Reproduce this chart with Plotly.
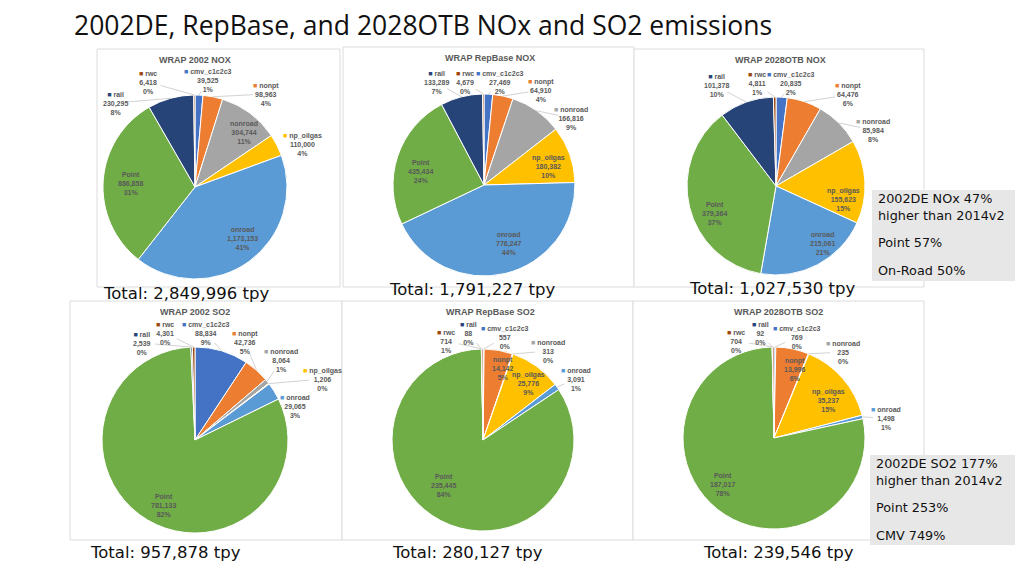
import math
import plotly.graph_objects as go

# ---------------- data ----------------
categories = ["cmv_c1c2c3", "nonpt", "nonroad", "np_oilgas", "onroad", "Point", "rail", "rwc"]

nox_2002 = [39525, 98963, 304744, 110000, 1173153, 886858, 230295, 6418]
nox_2002_pct = ["1%", "4%", "11%", "4%", "41%", "31%", "8%", "0%"]
nox_repbase = [27469, 64910, 166816, 180382, 776247, 435434, 133289, 4679]
nox_repbase_pct = ["2%", "4%", "9%", "10%", "44%", "24%", "7%", "0%"]
nox_2028 = [20835, 64476, 85984, 155623, 215061, 379364, 101378, 4811]
nox_2028_pct = ["2%", "6%", "8%", "15%", "21%", "37%", "10%", "1%"]
so2_2002 = [88834, 42736, 8064, 1206, 29065, 781133, 2539, 4301]
so2_2002_pct = ["9%", "5%", "1%", "0%", "3%", "82%", "0%", "0%"]
so2_repbase = [557, 14142, 313, 25776, 3091, 235445, 88, 714]
so2_repbase_pct = ["0%", "5%", "0%", "9%", "1%", "84%", "0%", "1%"]
so2_2028 = [769, 13996, 235, 35237, 1498, 187017, 92, 704]
so2_2028_pct = ["0%", "6%", "0%", "15%", "1%", "78%", "0%", "0%"]

chart_titles = ["WRAP 2002 NOX", "WRAP RepBase NOX", "WRAP 2028OTB NOX",
                "WRAP 2002 SO2", "WRAP RepBase SO2", "WRAP 2028OTB SO2"]
totals = ["Total: 2,849,996 tpy", "Total: 1,791,227 tpy", "Total: 1,027,530 tpy",
          "Total: 957,878 tpy", "Total: 280,127 tpy", "Total: 239,546 tpy"]
main_title = "2002DE, RepBase, and 2028OTB NOx and SO2 emissions"
note_nox = ["2002DE NOx 47%<br>higher than 2014v2", "Point 57%", "On-Road 50%"]
note_so2 = ["2002DE SO2 177%<br>higher than 2014v2", "Point 253%", "CMV 749%"]

# ---------------- styles / layout ----------------
W, H = 1024, 576
OFF = 8  # page body margin offset
colors = {"cmv_c1c2c3": "#4472C4", "nonpt": "#ED7D31", "nonroad": "#A5A5A5",
          "np_oilgas": "#FFC000", "onroad": "#5B9BD5", "Point": "#70AD47",
          "rail": "#264478", "rwc": "#9E480E"}

# pie centre and radius (screen pixels)
pie_geo = [(195, 187, 92), (484, 185, 91), (776, 186, 89),
           (195, 440, 93), (483, 440, 91), (774, 438, 91)]
panel_boxes = [(97, 49, 340, 287), (343, 47, 634, 287), (634, 49, 924, 287),
               (70, 301, 342, 540), (342, 301, 633, 540), (633, 301, 924, 540)]
title_pos = [(195, 60), (490, 58), (780, 60), (195, 312), (490, 312), (778, 312)]
total_pos = [(186, 293), (472, 289), (772, 288), (165, 552), (467, 552), (778, 552)]

# label positions (screen pixel centres of the text block)
label_pos = [
    {"rwc": (148, 82), "cmv_c1c2c3": (208, 80), "nonpt": (266, 94), "np_oilgas": (302, 144),
     "rail": (115, 103), "nonroad": (244, 132), "Point": (130, 183), "onroad": (242, 238)},
    {"rail": (436, 82), "rwc": (465, 82), "cmv_c1c2c3": (500, 82), "nonpt": (541, 90),
     "nonroad": (571, 118), "np_oilgas": (548, 166), "Point": (420, 171), "onroad": (508, 243)},
    {"rail": (716, 86), "rwc": (757, 84), "cmv_c1c2c3": (791, 83), "nonpt": (848, 95),
     "nonroad": (873, 130), "np_oilgas": (843, 199), "Point": (714, 214), "onroad": (822, 243)},
    {"rail": (142, 343), "rwc": (165, 333), "cmv_c1c2c3": (206, 333), "nonpt": (245, 342),
     "nonroad": (281, 360), "np_oilgas": (322, 379), "onroad": (295, 406), "Point": (163, 505)},
    {"rwc": (446, 341), "rail": (468, 333), "cmv_c1c2c3": (505, 337), "nonroad": (548, 351),
     "onroad": (576, 379), "nonpt": (503, 368), "np_oilgas": (528, 383), "Point": (443, 485)},
    {"rwc": (736, 341), "rail": (760, 333), "cmv_c1c2c3": (797, 337), "nonroad": (843, 352),
     "onroad": (886, 418), "nonpt": (795, 369), "np_oilgas": (828, 400), "Point": (722, 484)},
]
inside = [{"nonroad", "Point", "onroad"}, {"np_oilgas", "Point", "onroad"},
          {"np_oilgas", "Point", "onroad"}, {"Point"},
          {"nonpt", "np_oilgas", "Point"}, {"nonpt", "np_oilgas", "Point"}]
no_leader = [{"np_oilgas"}, set(), set(), {"onroad"}, set(), set()]

series = [(nox_2002, nox_2002_pct), (nox_repbase, nox_repbase_pct), (nox_2028, nox_2028_pct),
          (so2_2002, so2_2002_pct), (so2_repbase, so2_repbase_pct), (so2_2028, so2_2028_pct)]


def px(x):
    return (x - OFF) / W


def py(y):
    return 1 - (y - OFF) / H


fig = go.Figure()
annotations = []
shapes = []
LABEL_FONT = dict(family="Liberation Sans", size=7, color="#595959", weight="bold")

for i, (vals, pcts) in enumerate(series):
    cx, cy, r = pie_geo[i]
    x0, y0, x1, y1 = panel_boxes[i]
    shapes.append(dict(type="rect", xref="paper", yref="paper", x0=px(x0), x1=px(x1),
                       y0=py(y1), y1=py(y0), line=dict(color="#DCDCDC", width=1),
                       fillcolor="white", layer="below"))
    fig.add_trace(go.Pie(
        labels=categories, values=vals, sort=False, direction="clockwise", rotation=0,
        textinfo="none", hole=0,
        marker=dict(colors=[colors[c] for c in categories], line=dict(color="white", width=1)),
        domain=dict(x=[px(cx - r), px(cx + r)], y=[py(cy + r), py(cy - r)]),
        showlegend=False, hovertemplate="%{label}: %{value:,}<extra></extra>",
    ))
    total = sum(vals)
    cum = 0
    for c, v, p in zip(categories, vals, pcts):
        mid = 2 * math.pi * (cum + v / 2) / total
        cum += v
        lx, ly = label_pos[i][c]
        if c in inside[i]:
            txt = f"{c}<br>{v:,}<br>{p}"
        else:
            txt = f"<span style='color:{colors[c]}'>■</span> {c}<br>{v:,}<br>{p}"
            if c not in no_leader[i]:
                ex, ey = cx + r * math.sin(mid), cy - r * math.cos(mid)
                dx, dy = ex - lx, ey - ly
                d = math.hypot(dx, dy) or 1
                sx, sy = lx + dx / d * 13, ly + dy / d * 13
                if d > 16:
                    shapes.append(dict(type="line", xref="paper", yref="paper",
                                       x0=px(sx), y0=py(sy), x1=px(ex), y1=py(ey),
                                       line=dict(color="#BFBFBF", width=0.7)))
        annotations.append(dict(x=px(lx), y=py(ly), xref="paper", yref="paper", text=txt,
                                showarrow=False, xanchor="center", yanchor="middle",
                                font=LABEL_FONT, align="center"))
    tx, ty = title_pos[i]
    annotations.append(dict(x=px(tx), y=py(ty), xref="paper", yref="paper",
                            text=f"<b>{chart_titles[i]}</b>", showarrow=False,
                            xanchor="center", yanchor="middle",
                            font=dict(family="Liberation Sans", size=9, color="#595959")))
    tx, ty = total_pos[i]
    annotations.append(dict(x=px(tx), y=py(ty), xref="paper", yref="paper", text=totals[i],
                            showarrow=False, xanchor="center", yanchor="middle",
                            font=dict(family="DejaVu Sans", size=16.5, color="#111111")))

# note boxes
note_boxes = [((872, 190, 1015, 281), note_nox, [207, 242, 270]),
              ((870, 455, 1015, 545), note_so2, [472, 507, 535])]
for (x0, y0, x1, y1), lines, ys in note_boxes:
    shapes.append(dict(type="rect", xref="paper", yref="paper", x0=px(x0), x1=px(x1),
                       y0=py(y1), y1=py(y0), line=dict(width=0), fillcolor="#E7E7E7",
                       layer="below"))
    for t, yy in zip(lines, ys):
        annotations.append(dict(x=px(x0 + 4), y=py(yy), xref="paper", yref="paper", text=t,
                                showarrow=False, xanchor="left", yanchor="middle", align="left",
                                font=dict(family="DejaVu Sans", size=12.8, color="#111111")))

annotations.append(dict(x=px(72), y=py(25), xref="paper", yref="paper", text=main_title,
                        showarrow=False, xanchor="left", yanchor="middle",
                        font=dict(family="Open Sans", size=26.5, color="#111111")))

fig.update_layout(width=W, height=H, margin=dict(l=0, r=0, t=0, b=0),
                  paper_bgcolor="white", plot_bgcolor="white",
                  annotations=annotations, shapes=shapes)
fig.write_html("out.html")
